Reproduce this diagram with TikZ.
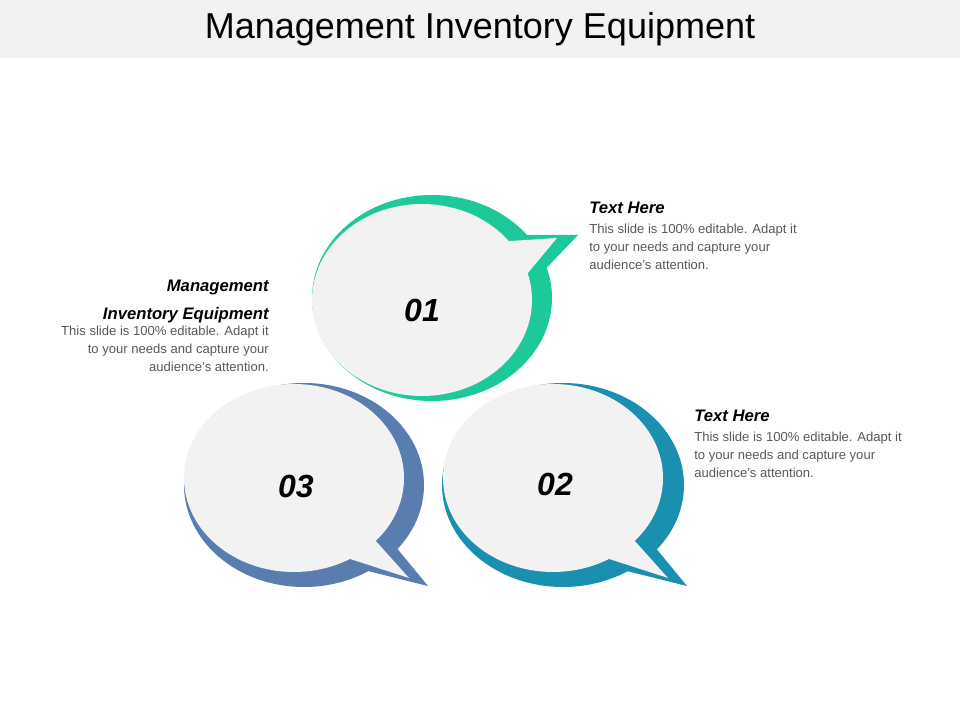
\documentclass[tikz,border=0pt]{standalone}
\usepackage{fontspec}
\setmainfont{Liberation Sans}
\definecolor{cg}{HTML}{1DC99A}
\definecolor{ct}{HTML}{1A8FB0}
\definecolor{cb}{HTML}{5A7DB0}
\definecolor{gr}{HTML}{F2F2F2}
\definecolor{tx}{HTML}{595959}
\begin{document}
\begin{tikzpicture}[x=0.75pt,y=-0.75pt,
  head/.style={font=\fontsize{12.5}{14}\selectfont\bfseries\itshape,inner sep=0},
  body/.style={font=\fontsize{9.8}{13.5}\selectfont,text=tx,inner sep=0},
  num/.style={font=\fontsize{24}{26}\selectfont\bfseries\itshape}]
\useasboundingbox (0,0) rectangle (960,720);
\fill[white] (0,0) rectangle (960,720);
\fill[gr] (0,0) rectangle (960,58);
\node (title) at (480,29) {\fontsize{27}{30}\selectfont Management Inventory Equipment};
% bubble 01
\fill[cg] (432,298) ellipse [x radius=120,y radius=103];
\fill[cg] (505,235) -- (578,235) -- (535,280) -- cycle;
\fill[gr] (422,300) ellipse [x radius=110,y radius=96];
\fill[gr] (495,242) -- (557,238) -- (522,280) -- cycle;
\node[num] (n1) at (422,310) {01};
% bubble 02
\fill[ct] (563,485) ellipse [x radius=121,y radius=102];
\fill[ct] (645,535) -- (687,586) -- (615,568) -- cycle;
\fill[gr] (553,478) ellipse [x radius=110,y radius=94];
\fill[gr] (625,530) -- (668,578) -- (600,556) -- cycle;
\node[num] (n2) at (555,484) {02};
% bubble 03
\fill[cb] (304,485) ellipse [x radius=120,y radius=102];
\fill[cb] (386,535) -- (428,586) -- (356,568) -- cycle;
\fill[gr] (294,478) ellipse [x radius=110,y radius=94];
\fill[gr] (366,530) -- (409,578) -- (341,556) -- cycle;
\node[num] (n3) at (296,486) {03};
% texts
\node[head,anchor=west] (h1) at (589,208) {Text Here};
\node[body,anchor=north west,align=left] (b1) at (589,224) {This slide is 100\% editable. Adapt it\\to your needs and capture your\\audience's attention.};
\node[head,anchor=west] (h2) at (694,416) {Text Here};
\node[body,anchor=north west,align=left] (b2) at (694,432) {This slide is 100\% editable. Adapt it\\to your needs and capture your\\audience's attention.};
\node[head,anchor=north east,align=right,font=\fontsize{12.5}{21}\selectfont\bfseries\itshape] (h3) at (269,280) {Management\\Inventory Equipment};
\node[body,anchor=north east,align=right] (b3) at (269,326) {This slide is 100\% editable. Adapt it\\to your needs and capture your\\audience's attention.};
\end{tikzpicture}
\end{document}
